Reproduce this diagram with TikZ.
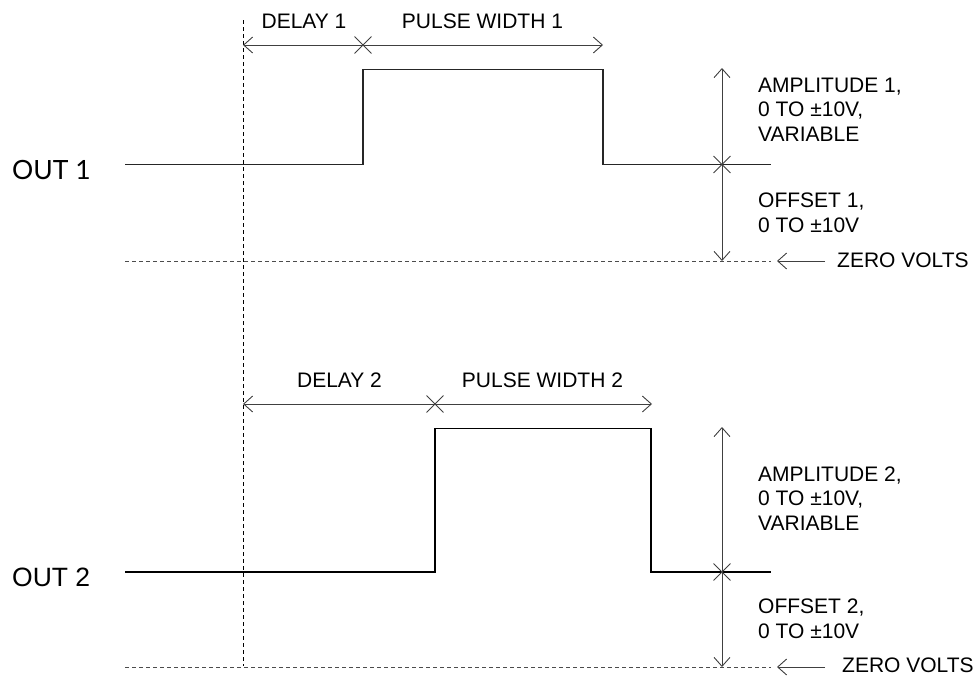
\documentclass[tikz,border=0pt]{standalone}
\usepackage{fontspec}
\setmainfont{Liberation Sans}
\newfontfamily\outfont{Lato}
\usetikzlibrary{arrows.meta,shapes.misc}
\begin{document}
\begin{tikzpicture}[x=1pt,y=-1pt,
  >={Straight Barb[length=9pt,width=16pt]},
  wave/.style={black!85, line width=1.1pt},
  zero/.style={black!70, dash pattern=on 4pt off 3pt, line width=0.9pt},
  ref/.style={black, dash pattern=on 4pt off 3pt, line width=0.8pt},
  dim/.style={black!75, line width=0.9pt},
  xmark/.style={cross out, draw=black!75, line width=0.9pt, minimum size=16pt, inner sep=0pt},
  lbl/.style={font=\fontsize{21}{24.5}\selectfont, inner sep=0pt, align=left},
  outlbl/.style={font=\fontsize{26.5}{30}\selectfont, inner sep=0pt},
]
\useasboundingbox (0,0) rectangle (977,675);

% reference vertical line
\coordinate (vtop) at (243,20);
\coordinate (vbot) at (243,666);
\draw[ref] (vtop) -- (vbot);

% ===== OUT 1 =====
\node[outlbl, anchor=base west] (out1) at (12,179.5) {\outfont OUT 1};
\coordinate (w1a) at (125,164.5);
\coordinate (w1b) at (363,164.5);
\coordinate (w1c) at (363,69.5);
\coordinate (w1d) at (603,69.5);
\coordinate (w1e) at (603,164.5);
\coordinate (w1f) at (771,164.5);
\draw[wave] (w1a) -- (w1b) -- (w1c) -- (w1d) -- (w1e) -- (w1f);
\coordinate (z1a) at (125,261);
\coordinate (z1b) at (771,261);
\draw[zero] (z1a) -- (z1b);

% timing arrows 1
\coordinate (d1s) at (243,45);
\node[xmark] (x1) at (363,45) {};
\coordinate (p1e) at (603,45);
\draw[dim,->] (x1.center) -- (d1s);
\draw[dim,->] (x1.center) -- (p1e);
\node[lbl, anchor=base] (dl1) at (304,28) {DELAY 1};
\node[lbl, anchor=base] (pw1) at (482.5,28) {PULSE WIDTH 1};

% amplitude/offset 1
\coordinate (a1t) at (722,68);
\node[xmark] (y1) at (722,164.5) {};
\coordinate (a1b) at (722,261);
\draw[dim,->] (y1.center) -- (a1t);
\draw[dim,->] (y1.center) -- (a1b);
\node[lbl, anchor=north west] (amp1) at (758,77.5) {AMPLITUDE 1,\\0 TO ±10V,\\VARIABLE};
\node[lbl, anchor=north west] (off1) at (758,193) {OFFSET 1,\\0 TO ±10V};

% zero volts 1
\node[lbl, anchor=base west] (zv1) at (837,267.5) {ZERO VOLTS};
\coordinate (zv1t) at (825,261);
\coordinate (zv1h) at (777,261);
\draw[dim,->] (zv1t) -- (zv1h);

% ===== OUT 2 =====
\node[outlbl, anchor=base west] (out2) at (12,586) {OUT 2};
\coordinate (w2a) at (125,572);
\coordinate (w2b) at (435,572);
\coordinate (w2c) at (435,428.5);
\coordinate (w2d) at (651,428.5);
\coordinate (w2e) at (651,572);
\coordinate (w2f) at (771,572);
\draw[wave, black] (w2a) -- (w2b) -- (w2c) -- (w2d) -- (w2e) -- (w2f);
\coordinate (z2a) at (125,667);
\coordinate (z2b) at (771,667);
\draw[zero] (z2a) -- (z2b);

% timing arrows 2
\coordinate (d2s) at (243,404);
\node[xmark] (x2) at (435,404) {};
\coordinate (p2e) at (652,404);
\draw[dim,->] (x2.center) -- (d2s);
\draw[dim,->] (x2.center) -- (p2e);
\node[lbl, anchor=base] (dl2) at (339.5,387) {DELAY 2};
\node[lbl, anchor=base] (pw2) at (542.5,387) {PULSE WIDTH 2};

% amplitude/offset 2
\coordinate (a2t) at (722,427);
\node[xmark] (y2) at (722,572) {};
\coordinate (a2b) at (722,667);
\draw[dim,->] (y2.center) -- (a2t);
\draw[dim,->] (y2.center) -- (a2b);
\node[lbl, anchor=north west] (amp2) at (758,466.5) {AMPLITUDE 2,\\0 TO ±10V,\\VARIABLE};
\node[lbl, anchor=north west] (off2) at (758,599) {OFFSET 2,\\0 TO ±10V};

% zero volts 2
\node[lbl, anchor=base west] (zv2) at (842,672.5) {ZERO VOLTS};
\coordinate (zv2t) at (825,667);
\coordinate (zv2h) at (777,667);
\draw[dim,->] (zv2t) -- (zv2h);
\end{tikzpicture}
\end{document}
